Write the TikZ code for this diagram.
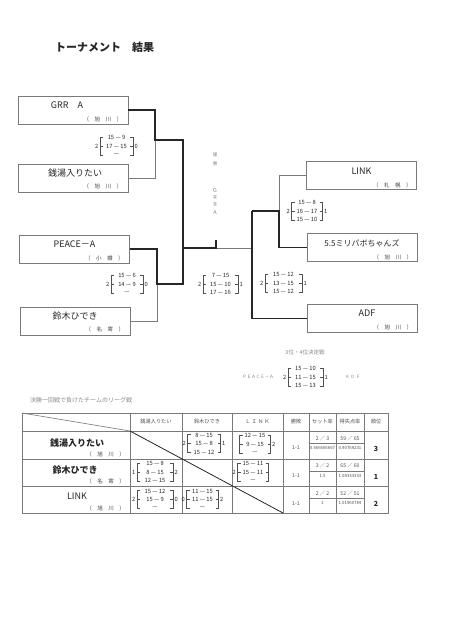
\documentclass[tikz,border=0pt]{standalone}
\usepackage{fontspec}
\setmainfont{Noto Sans CJK JP}
\usepackage{tikz}
\usetikzlibrary{positioning,calc}
\definecolor{ink}{HTML}{262626}
\definecolor{rule}{HTML}{7A7A7A}
\definecolor{faint}{HTML}{8A8A8A}
\newcommand{\fs}[1]{\fontsize{#1}{#1}\selectfont}
\tikzset{team/.style={draw=rule,line width=0.6pt,minimum width=110pt,minimum height=28pt,inner sep=0pt},tname/.style={font=\fs{9},text=ink,inner sep=0pt},town/.style={font=\fs{5.5},text=ink!85,inner sep=0pt,anchor=east},win/.style={line width=1.3pt,draw=ink},lose/.style={line width=0.6pt,draw=rule},brk/.style={line width=0.5pt,draw=ink!80},sc/.style={font=\fs{5.8},text=ink,inner sep=0pt},grid/.style={line width=0.6pt,draw=rule},hd/.style={font=\fs{5.2},text=ink!80,inner sep=0pt},small/.style={font=\fs{5.5},text=faint,inner sep=0pt}}
% score bracket: name, x, y, half width, left, three sets, right
\newcommand{\scorebr}[9]{%
\begin{scope}[shift={(#2,#3)}]
\draw[brk] (-#4+3,-9) -- (-#4,-9) -- (-#4,9) -- (-#4+3,9) (-#4,0) -- (-#4+3,0);
\draw[brk] (#4-3,-9) -- (#4,-9) -- (#4,9) -- (#4-3,9) (#4,0) -- (#4-3,0);
\node[sc] (#1-a) at (0,-8.5) {#6};
\node[sc] (#1-b) at (0,0) {#7};
\node[sc] (#1-c) at (0,8.5) {#8};
\node[sc,anchor=east] (#1-l) at (-#4-1.5,0) {#5};
\node[sc,anchor=west] (#1-r) at (#4+1.5,0) {#9};
\end{scope}}
\begin{document}
\begin{tikzpicture}[x=1pt,y=-1pt]
\useasboundingbox (0,0) rectangle (452,640);
\fill[white] (0,0) rectangle (452,640);
\node[font=\fs{11}\bfseries,text=ink,anchor=west,inner sep=0pt] (title) at (55,47) {トーナメント　結果};
% teams
\node[team] (gA) at (73,110) {};
\node[team] (sento) at (73,178) {};
\node[team] (peace) at (74.5,249) {};
\node[team] (suzuki) at (75,321) {};
\node[team] (link) at (361.5,175.5) {};
\node[team] (mm) at (362,247.5) {};
\node[team] (adf) at (362,318.5) {};
\node[tname] (gA-n) at ([xshift=-6pt,yshift=5pt]gA.center) {GRR　A};
\node[tname] (sento-n) at ([xshift=2pt,yshift=5pt]sento.center) {銭湯入りたい};
\node[tname] (peace-n) at ([yshift=5pt]peace.center) {PEACE－A};
\node[tname] (suzuki-n) at ([yshift=5pt]suzuki.center) {鈴木ひでき};
\node[tname] (link-n) at ([yshift=4pt]link.center) {LINK};
\node[tname,font=\fs{8}] (mm-n) at ([yshift=4.5pt]mm.center) {5.5ミリパボちゃんズ};
\node[tname] (adf-n) at ([xshift=5pt,yshift=5pt]adf.center) {ADF};
\node[town] (gA-t) at ([xshift=-6pt,yshift=-9pt]gA.east) {（　旭　川　）};
\node[town] (sento-t) at ([xshift=-6pt,yshift=-8pt]sento.east) {（　旭　川　）};
\node[town] (peace-t) at ([xshift=-6pt,yshift=-9pt]peace.east) {（　小　樽　）};
\node[town] (suzuki-t) at ([xshift=-6pt,yshift=-8pt]suzuki.east) {（　名　寄　）};
\node[town] (link-t) at ([xshift=-5pt,yshift=-9.5pt]link.east) {（　札　幌　）};
\node[town] (mm-t) at ([xshift=-5pt,yshift=-9.5pt]mm.east) {（　旭　川　）};
\node[town] (adf-t) at ([xshift=-5pt,yshift=-8.5pt]adf.east) {（　旭　川　）};
% bracket lines
\coordinate (j1) at (155,140);
\coordinate (j2) at (157,284);
\coordinate (s1) at (183,140);
\coordinate (s2) at (183,284);
\coordinate (f) at (183,248);
\coordinate (top) at (216,248);
\coordinate (cup) at (216,240);
\coordinate (r) at (252,248);
\coordinate (s3) at (252,211);
\coordinate (j4) at (279,211);
\draw[lose] (sento.east) -| (j1);
\draw[lose] (suzuki.east) -| (j2);
\draw[lose] (link.west) -| (j4);
\draw[lose] (top) -- (r);
\draw[win] (gA.east) -| (j1) -- (s1) -- (s2) -- (j2) |- (peace.east);
\draw[win] (f) -- (top) -- (cup);
\draw[win] (s3) -- (j4) |- (mm.west);
\draw[win] (s3) |- (adf.west);
% champion
\node[small,font=\fs{4.5}] (v1) at (215,155) {優};
\node[small,font=\fs{4.5}] (v2) at (215,164) {勝};
\node[small] (g1) at (215,190) {G};
\node[small] (g2) at (215,197) {R};
\node[small] (g3) at (215,204) {R};
\node[small] (g4) at (215,212) {A};
% scores
\scorebr{q1}{116.5}{146}{16.5}{2}{15 — 9}{17 — 15}{—}{0}
\scorebr{q2}{127}{284}{16}{2}{15 — 6}{14 — 9}{—}{0}
\scorebr{sf1}{220.5}{284}{17.5}{2}{7 — 15}{15 — 10}{17 — 16}{1}
\scorebr{q3}{307}{211}{15.5}{2}{15 — 8}{16 — 17}{15 — 10}{1}
\scorebr{sf2}{283.5}{283}{18.5}{2}{15 — 12}{13 — 15}{15 — 12}{1}
% third place
\node[small] (tp) at (305,352) {3位・4位決定戦};
\node[small,font=\fs{4.5},anchor=east] (tp-a) at (274,377) {ＰＥＡＣＥ－Ａ};
\node[small,font=\fs{4.5},anchor=west] (tp-b) at (345,377) {Ａ Ｄ Ｆ};
\scorebr{tp}{305.5}{377}{17.5}{2}{15 — 10}{11 — 15}{15 — 13}{1}
% league
\node[small,font=\fs{6},anchor=west] (lg) at (30,400) {決勝一回戦で負けたチームのリーグ戦};
\draw[grid] (22,413) rectangle (388,513);
\draw[grid] (22,431) -- (388,431) (22,459) -- (388,459) (22,486) -- (388,486);
\draw[grid] (130,413) -- (130,513) (182,413) -- (182,513) (232,413) -- (232,513) (283,413) -- (283,513) (309,413) -- (309,513) (336,413) -- (336,513) (364,413) -- (364,513);
\draw[grid] (309,443) -- (364,443) (309,471) -- (364,471) (309,498) -- (364,498);
\draw[grid] (22,413) -- (130,431);
\draw[line width=0.8pt,draw=ink] (130,431) -- (283,513);
\node[hd] (h1) at (156,422) {銭湯入りたい};
\node[hd] (h2) at (207,422) {鈴木ひでき};
\node[hd] (h3) at (257.5,422) {Ｌ Ｉ Ｎ Ｋ};
\node[hd] (h4) at (296,422) {勝敗};
\node[hd] (h5) at (322.5,422) {セット率};
\node[hd] (h6) at (350,422) {得失点率};
\node[hd] (h7) at (376,422) {順位};
\node[tname,font=\fs{9}\bfseries] (l1) at (77,443) {銭湯入りたい};
\node[town] (l1-t) at (125,454) {（　旭　川　）};
\node[tname,font=\fs{9}\bfseries] (l2) at (75,470) {鈴木ひでき};
\node[town] (l2-t) at (125,481) {（　名　寄　）};
\node[tname] (l3) at (77,496) {LINK};
\node[town] (l3-t) at (125,508) {（　旭　川　）};
\scorebr{m12}{204}{443.5}{16.5}{2}{8 — 15}{15 — 8}{15 — 12}{1}
\scorebr{m13}{255}{444}{15.5}{}{12 — 15}{9 — 15}{—}{2}
\scorebr{m21}{155}{472}{18}{1}{15 — 8}{8 — 15}{12 — 15}{2}
\scorebr{m23}{253}{472}{15.5}{2}{15 — 11}{15 — 11}{—}{}
\scorebr{m31}{155}{499.5}{18}{2}{15 — 12}{15 — 9}{—}{0}
\scorebr{m32}{202.5}{499.5}{16}{0}{11 — 15}{11 — 15}{—}{2}
\node[hd] (w1) at (296,448) {1-1};
\node[hd] (w2) at (296,476) {1-1};
\node[hd] (w3) at (296,504) {1-1};
\node[hd] (st1) at (322.5,438.5) {2 ／ 3};
\node[hd] (st2) at (322.5,466) {3 ／ 2};
\node[hd] (st3) at (322.5,493.5) {2 ／ 2};
\node[hd,font=\fs{4.3}] (sr1) at (322.5,448) {0.666666667};
\node[hd,font=\fs{4.3}] (sr2) at (322.5,476) {1.5};
\node[hd,font=\fs{4.3}] (sr3) at (322.5,503) {1};
\node[hd] (pt1) at (350,438.5) {59 ／ 65};
\node[hd] (pt2) at (350,466) {65 ／ 60};
\node[hd] (pt3) at (350,493.5) {52 ／ 51};
\node[hd,font=\fs{4.3}] (pr1) at (350,448) {0.90769231};
\node[hd,font=\fs{4.3}] (pr2) at (350,476) {1.08333333};
\node[hd,font=\fs{4.3}] (pr3) at (350,503) {1.01960784};
\node[hd,font=\fs{7}\bfseries,text=ink] (rk1) at (376,449) {3};
\node[hd,font=\fs{7}\bfseries,text=ink] (rk2) at (376,477) {1};
\node[hd,font=\fs{7}\bfseries,text=ink] (rk3) at (376,504) {2};
\end{tikzpicture}
\end{document}
